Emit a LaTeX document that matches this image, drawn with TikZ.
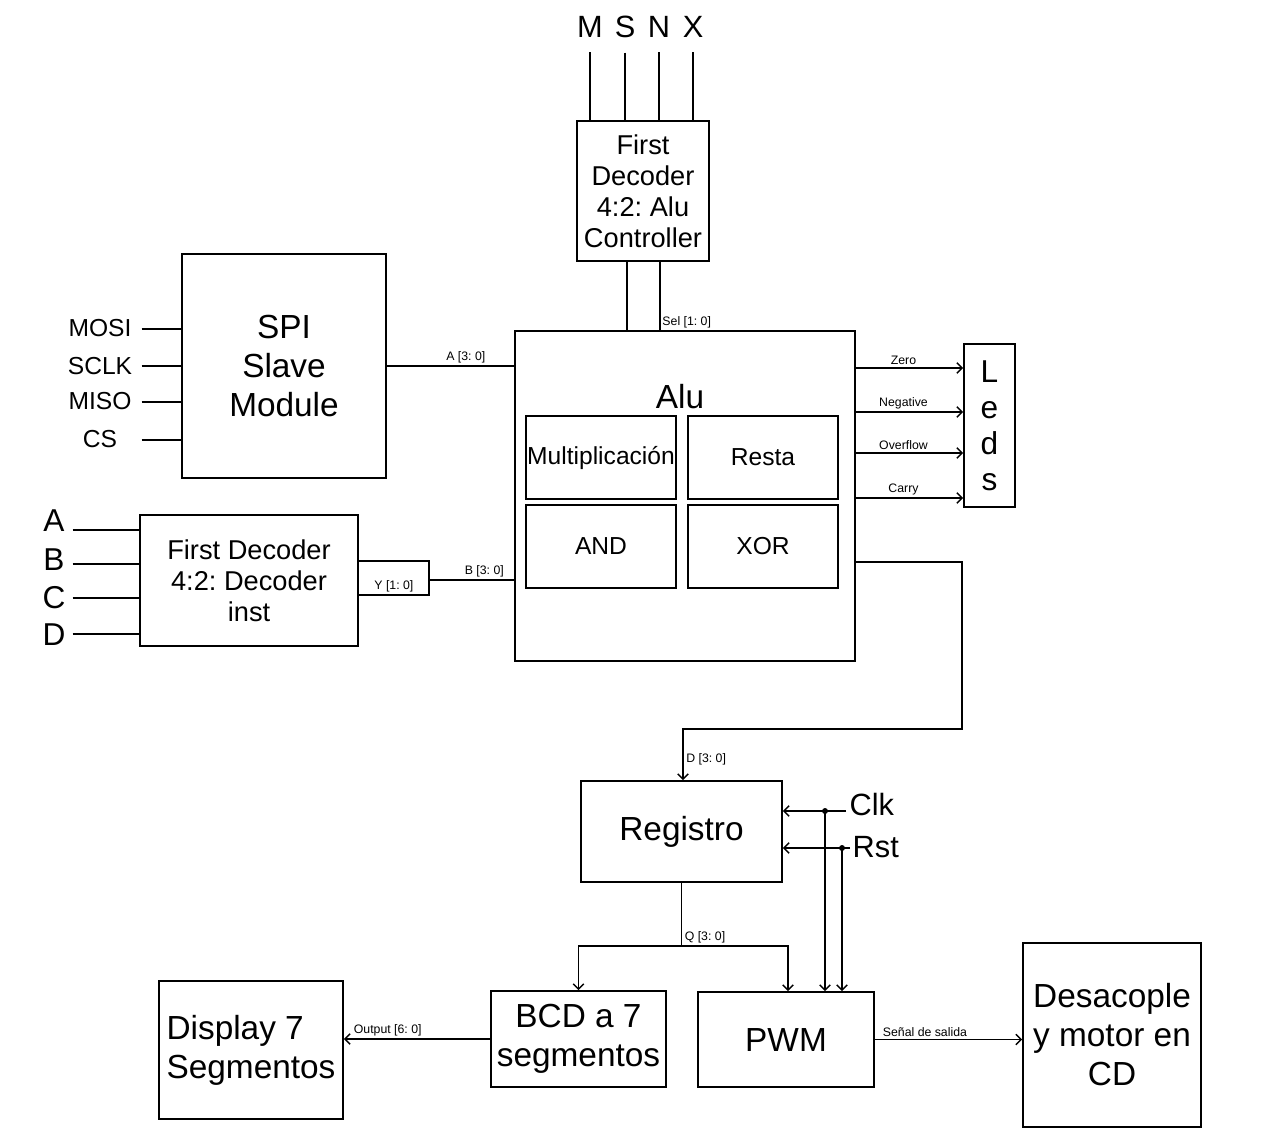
\documentclass[tikz,border=0pt]{standalone}
\usepackage{fontspec}
\setmainfont{Liberation Sans}
\usetikzlibrary{arrows.meta}
\frenchspacing
\begin{document}
\begin{tikzpicture}[x=0.02cm, y=-0.02cm, line width=0.8pt, >={Straight Barb[length=3pt,width=6pt]}]
\tikzset{bloque/.style={draw, line width=1pt, inner sep=0pt, align=center},
  grande/.style={font=\fontsize{19}{22.2}\selectfont},
  medio/.style={font=\fontsize{15.5}{17.6}\selectfont},
  chico/.style={font=\fontsize{14}{17}\selectfont},
  senal/.style={font=\fontsize{17.5}{20}\selectfont, inner sep=0pt},
  etiq/.style={font=\fontsize{7}{8}\selectfont, inner sep=1.5pt}}
\useasboundingbox (0,0) rectangle (1280,1139);
\node[bloque, medio, minimum width=2.64cm, minimum height=2.8cm] (Ctrl) at (643,191) {First\\Decoder\\4:2: Alu\\Controller};
\node[bloque, minimum width=6.8cm, minimum height=6.6cm] (Alu) at (685,496) {};
\node[grande] (AluT) at (680,397) {Alu};
\node[bloque, chico, minimum width=3cm, minimum height=1.66cm] (Mul) at (601,457.5) {Multiplicación};
\node[bloque, chico, minimum width=3cm, minimum height=1.66cm] (Res) at (763,457.5) {Resta};
\node[bloque, chico, minimum width=3cm, minimum height=1.66cm] (And) at (601,546.5) {AND};
\node[bloque, chico, minimum width=3cm, minimum height=1.66cm] (Xor) at (763,546.5) {XOR};
\node[bloque, font=\fontsize{18}{20.5}\selectfont, minimum width=1.02cm, minimum height=3.26cm] (Leds) at (989.5,425.5) {L\\e\\d\\s};
\node[bloque, grande, minimum width=4.08cm, minimum height=4.48cm] (SPI) at (284,366) {SPI\\Slave\\Module};
\node[bloque, medio, minimum width=4.36cm, minimum height=2.62cm] (Dec) at (249,580.5) {First Decoder\\4:2: Decoder\\inst};
\node[bloque, grande, minimum width=4.02cm, minimum height=2.02cm] (Reg) at (681.5,831.5) {Registro};
\node[bloque, grande, align=left, minimum width=3.68cm, minimum height=2.76cm] (Disp) at (251,1050) {Display 7\\Segmentos};
\node[bloque, grande, minimum width=3.5cm, minimum height=1.92cm] (BCD) at (578.5,1039) {BCD a 7\\segmentos};
\node[bloque, grande, minimum width=3.52cm, minimum height=1.9cm] (PWM) at (786,1039.5) {PWM};
\node[bloque, grande, minimum width=3.56cm, minimum height=3.68cm] (Mot) at (1112,1035) {Desacople\\y motor en\\CD};
% entradas del controlador
\foreach \n/\x in {M/590, S/625, N/659, X/693} {
  \node[senal, inner ysep=8pt] (\n) at (\x,27) {\n};
  \draw (\n) -- (\n |- Ctrl.north);
}
\draw ([xshift=-0.32cm]Ctrl.south) -- ([xshift=-0.32cm]Ctrl.south |- Alu.north);
\draw ([xshift=0.34cm]Ctrl.south) -- ([xshift=0.34cm]Ctrl.south |- Alu.north) node[etiq, above right, inner sep=1pt] {Sel [1: 0]};
% SPI
\foreach \n/\ly/\y in {MOSI/328/329, SCLK/366/366, MISO/401/402, CS/439/440} {
  \node[chico, minimum width=1.64cm, inner sep=0pt] (\n) at (100,\ly) {\n};
  \draw (\n.east |- 0,\y) -- (SPI.west |- 0,\y);
}
\draw (SPI.east) -- (SPI.east -| Alu.west) node[etiq, pos=0.62, above] {A [3: 0]};
% decoder
\foreach \n/\ly/\y in {A/521/530, B/560/564, C/598/598, D/635/634} {
  \node[senal, font=\fontsize{18}{20}\selectfont, minimum width=0.72cm] (\n) at (54,\ly) {\n};
  \draw (\n.east |- 0,\y) -- (Dec.west |- 0,\y);
}
\coordinate (Ybus) at (429,580);
\draw ([yshift=0.39cm]Dec.east) -| (Ybus) |- ([yshift=-0.29cm]Dec.east) node[etiq, pos=0.75, above] {Y [1: 0]};
\draw (Ybus) -- (Ybus -| Alu.west) node[etiq, pos=0.65, above] {B [3: 0]};
% banderas
\foreach \y/\t in {368/Zero, 412/Negative, 453/Overflow, 498/Carry}
  \draw[->] (Alu.east |- 0,\y) -- (Leds.west |- 0,\y) node[etiq, midway, above, xshift=-0.12cm] {\t};
\draw[->] (Alu.east |- 0,562) -| (962,729) -| (Reg.north -| 683,0) node[etiq, pos=0.8, right] {D [3: 0]};
% registro
\node[senal, anchor=west] (Clk) at (849,804) {Clk};
\node[senal, anchor=west] (Rst) at (852,847) {Rst};
\coordinate (ClkE) at (846,811);
\coordinate (ClkP) at (825,811);
\coordinate (RstE) at (850,848);
\coordinate (RstP) at (842,848);
\draw[->] (ClkE) -- (ClkE -| Reg.east);
\draw[->] (RstE) -- (RstE -| Reg.east);
\draw[->] (ClkP) -- (ClkP |- PWM.north);
\draw[->] (RstP) -- (RstP |- PWM.north);
\fill (ClkP) circle (1.7pt);
\fill (RstP) circle (1.7pt);
\draw (Reg.south) -- (Reg.south |- 0,946) coordinate (Q) node[etiq, above right] {Q [3: 0]};
\draw[->] (Q) -| (BCD.north);
\draw[->] (Q) -| ([xshift=0.04cm]PWM.north);
% salidas
\draw[->] (BCD.west) -- (BCD.west -| Disp.east) node[etiq, pos=0.7, above] {Output [6: 0]};
\draw[->] (PWM.east) -- (PWM.east -| Mot.west) node[etiq, pos=0.34, above] {Señal de salida};
\end{tikzpicture}
\end{document}
